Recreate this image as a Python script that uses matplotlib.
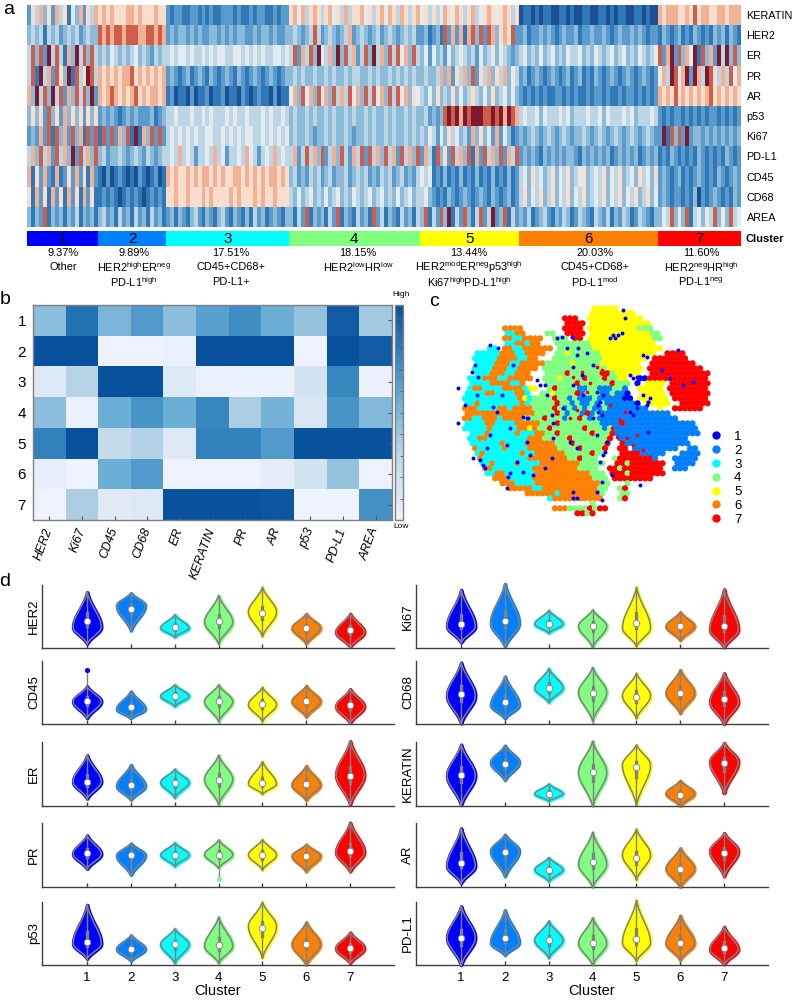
import numpy as np
import matplotlib
matplotlib.use("Agg")
import matplotlib.pyplot as plt
from matplotlib.colors import LinearSegmentedColormap, ListedColormap
from matplotlib.lines import Line2D

plt.rcParams['font.family'] = ['Liberation Sans', 'DejaVu Sans']
plt.rcParams['mathtext.fontset'] = 'custom'
plt.rcParams['mathtext.rm'] = 'Liberation Sans'
plt.rcParams['mathtext.default'] = 'rm'

W, H = 793, 1000
fig = plt.figure(figsize=(W / 100, H / 100), dpi=100)

def px_axes(x0, y0, x1, y1):
    return fig.add_axes([x0 / W, 1 - y1 / H, (x1 - x0) / W, (y1 - y0) / H])

def px_text(x, y, s, **kw):
    kw.setdefault('ha', 'center')
    kw.setdefault('va', 'center')
    fig.text(x / W, 1 - y / H, s, **kw)

cluster_colors = ['#0000ff', '#0080ff', '#00ffff', '#80ff80', '#ffff00', '#ff8000', '#ff0000']
cluster_names = ['1', '2', '3', '4', '5', '6', '7']

# ---- panel a: cell level (0 dark blue ... 9 dark red), one string per cluster
stripe_counts = [18, 17, 31, 33, 25, 35, 21]
row_names = ['KERATIN', 'HER2', 'ER', 'PR', 'AR', 'p53', 'Ki67', 'PD-L1', 'CD45', 'CD68', 'AREA']
keratin = ["264736274615372647", "67676667767666766", "2122112212121122212112122112122",
           "675746764675647466756467576476467", "5646457657646745676567646",
           "01101011001101001100110101100110100", "767776676867766776777"]
her2 = ["343414342343423433", "87878878887788787", "2323323232233232323322323323223",
        "343234842343234723432342343234342", "2312318272717838287367682",
        "23122323212322312232232123223232122", "132123121321213231321"]
er = ["483829484173948384", "34354343453432434", "4545545445454554455454545445545",
      "482748395473938472483947384857384", "3525342534543425345354323",
      "45343534534354453435434534534354345", "827928375918372949383"]
pr = ["481947286391846984", "76767677867676767", "2321231232132123213212321232123",
      "343433433434334344334343343434343", "3433473726473826473647354",
      "23123212321231231213212321232123212", "574985792974986474857"]
ar = ["739483948273848392", "76787676786767767", "1201102011201120110210121102011",
      "573857385738474857384857384857365", "4353634363534643536345353",
      "21212121122121211212212112122121212", "767686767676786767676"]
p53 = ["363628362736362636", "23232123232223123", "4454445445454445454454445454454",
       "343343433434334343343433434334343", "3423238989798999889897987",
       "45445354445453444544535444545344454", "212122121212122121212"]
ki67 = ["232728183728371828", "18282738191738282", "4545454544554454545455445454545",
        "343343233434334323343433434334343", "4354253645342736352725312",
        "32343234323432334323432343234323432", "291838292332323232323"]
pdl1 = ["473847284739284738", "34233432343243234", "4547454244547452445475424547454",
        "472484738247384274828473847284738", "2741836284738172847382748",
        "23232132323233213232323123232312323", "121321212132121213212"]
cd45 = ["716272171262726172", "10201210102101201", "7676676767767676677676767677676",
        "342324342342334234342324342342324", "5451213121312131213121312",
        "45364534635463456345463546345364536", "232123121232121321232"]
cd68 = ["617261726172617261", "12121012121012121", "6676676667676666767666767667666",
        "435345343534534354345345343534534", "4532121321232123213212312",
        "46354634635463546345463546354634635", "232122121302123212132"]
area = ["313281323132413231", "34231423142314231", "2313213421321342132131423123213",
        "314281323142813214231824132142314", "3814283914283148249238142",
        "32412342132431243214324132431243213", "354835381453548353845"]
heat_rows = [keratin, her2, er, pr, ar, p53, ki67, pdl1, cd45, cd68, area]

cluster_notes = [
    ['9.37%', 'Other'],
    ['9.89%', r'HER2$^{high}$ER$^{neg}$', r'PD-L1$^{high}$'],
    ['17.51%', 'CD45+CD68+', 'PD-L1+'],
    ['18.15%', r'HER2$^{low}$HR$^{low}$'],
    ['13.44%', r'HER2$^{mod}$ER$^{neg}$p53$^{high}$', r'Ki67$^{high}$PD-L1$^{high}$'],
    ['20.03%', 'CD45+CD68+', r'PD-L1$^{mod}$'],
    ['11.60%', r'HER2$^{neg}$HR$^{high}$', r'PD-L1$^{neg}$'],
]

# ---- panel b
b_markers = ['HER2', 'Ki67', 'CD45', 'CD68', 'ER', 'KERATIN', 'PR', 'AR', 'p53', 'PD-L1', 'AREA']
b_values = [
    [.45, .85, .50, .65, .45, .62, .72, .55, .42, .95, .38],
    [1.0, 1.0, .00, .00, .03, 1.0, 1.0, 1.0, .00, 1.0, .95],
    [.10, .32, 1.0, 1.0, .10, .03, .02, .02, .17, .75, .02],
    [.45, .03, .55, .68, .55, .75, .35, .52, .14, .68, .48],
    [.78, 1.0, .25, .33, .10, .78, .77, .65, 1.0, 1.0, 1.0],
    [.05, .00, .55, .65, .00, .00, .00, .06, .17, .42, .01],
    [.00, .35, .08, .10, 1.0, 1.0, 1.0, .97, .00, .00, .70],
]

# ---- panel c: dominant cluster over the t-SNE map, row by row
tsne_map = [
    "............................55555",
    "...........................555555555",
    "......................777..55555555555",
    "......................7777.555555555555",
    "..........6666........7777.5555555555444",
    "..........3366....44..7777.55555555555544",
    "..........66336666..444.77.555555555555544",
    "..........3366366...44444445555555555555",
    ".......33.6633666666.444444455555555555555",
    "....33333666336666..44544444455555555555..7777",
    "....3333366663366...4444444444555555555.7777777",
    "....333366633666664444454444455555555..777777777",
    "....3333666336666.44444444444445555555.77777777777",
    "....33366633666...4444744444477455555..777777777777",
    "...3336663366666..44454444744474455..11777777777777",
    "...33336666336....44444474444447444.1.5555.77777777",
    "...36633336666355..4744442244222442..55555.77777777",
    "..3333663333663..445444472444224221..55555.77777777",
    "..3333333333365344447442422242222211.555555.7777777",
    "..33633333333634444474424224242222221.55555..777777",
    "..6663333663666644447424242422422222222..5..777777",
    "..66666666666666444474244272422222222222222",
    "..6633666366664444744424474242222222222222222",
    "..3333663333666664447444444442222722222222222222",
    "..33333633333665644744444474442422222222222222222",
    "...3336333336333664474444447444722222222222222222",
    "...33663333333366644444744444447.22222222222222",
    "...3333336333366666644474444447..72222222222222",
    "....633333633336666664444744447..77.222222222..22",
    "....36333333363366666644444744...777722222...2222",
    ".....633333333366666666447444...477777772...22222",
    ".....3363333633336666666644444..7747777777..2222",
    "......66333333336666666664444..77477777777..222",
    "......336633333366666666666444.77747777777",
    "........66633333666666666666444.77777777",
    ".........6663333666666666666644...4",
    "...........66666336666666666644..47",
    "..............6666663666666664...44",
    "...................36666666666...47",
    "...........................4",
    "....................66644447477",
    "........................7747",
]

extra_blue_x = [85, 85, 105, 140, 150, 160, 165, 230, 235, 240, 290, 280, 295, 320, 330, 345, 350, 365, 380, 395,
                410, 425, 430, 445, 455, 470, 490, 500, 505, 510, 515, 520, 540, 550, 555, 565, 575, 580, 585,
                600, 610, 620, 625, 635, 640, 650, 655, 660, 600, 610, 620, 640, 650, 655, 505, 490, 500, 510,
                525, 545, 370, 420, 440, 460, 430, 440, 500, 515, 520, 530, 430, 400, 180, 205, 215, 180, 230,
                260, 310, 345, 365, 240, 200, 170, 135, 145, 430, 440, 515, 630, 720, 745, 760, 790, 695, 655,
                300, 280, 290, 370, 250, 190, 125, 130]
extra_blue_y = [280, 385, 330, 300, 495, 510, 520, 578, 545, 535, 370, 365, 370, 255, 270, 270, 300, 360, 130, 125,
                160, 125, 215, 160, 240, 175, 210, 290, 350, 320, 360, 300, 130, 120, 130, 120, 115, 45, 70,
                240, 250, 245, 255, 250, 180, 185, 320, 310, 350, 360, 340, 300, 330, 320, 330, 370, 420, 500,
                470, 540, 430, 440, 460, 300, 610, 610, 590, 615, 480, 440, 270, 340, 150, 160, 300, 420, 450,
                500, 540, 520, 490, 400, 350, 460, 210, 245, 590, 180, 560, 570, 250, 165, 270, 260, 225, 410,
                480, 530, 440, 385, 210, 335, 230, 490]
extra_red_x = [500, 515, 525, 480, 470, 445, 420, 440, 560, 575, 590, 610, 640, 570, 585, 540, 430, 455, 545, 620]
extra_red_y = [215, 225, 240, 265, 290, 295, 370, 345, 425, 440, 430, 450, 465, 375, 350, 330, 245, 230, 400, 420]

# ---- panel d: violin summaries (tip high, tip low, median, widest level), read in panel units 0-190
violin_panels = [
    ['HER2', 'Ki67'], ['CD45', 'CD68'], ['ER', 'KERATIN'], ['PR', 'AR'], ['p53', 'PD-L1'],
]
vhigh = {'HER2': [168, 165, 100, 158, 183, 103, 103], 'CD45': [113, 98, 118, 118, 111, 115, 105],
         'ER': [150, 122, 109, 150, 132, 119, 192], 'PR': [153, 129, 131, 139, 141, 126, 191],
         'p53': [181, 89, 109, 144, 189, 129, 98], 'Ki67': [175, 193, 113, 115, 183, 108, 177],
         'CD68': [185, 143, 167, 170, 153, 163, 153], 'KERATIN': [182, 179, 65, 192, 182, 75, 187],
         'AR': [174, 155, 87, 162, 172, 115, 160], 'PD-L1': [177, 165, 132, 142, 195, 149, 115]}
vlow = {'HER2': [13, 53, 33, 13, 35, 13, 3], 'CD45': [18, 18, 53, 8, 8, 21, 3],
        'ER': [22, 19, 25, 5, 35, 17, 5], 'PR': [54, 36, 61, 56, 51, 46, 46],
        'p53': [19, 13, 6, 6, 21, 1, 6], 'Ki67': [17, 5, 45, 2, 5, 23, 2],
        'CD68': [2, 17, 65, 10, 17, 32, 0], 'KERATIN': [3, 77, 14, 0, 2, 0, 39],
        'AR': [12, 32, 17, 0, 22, 0, 32], 'PD-L1': [0, 30, 22, 0, 12, 15, 2]}
vmed = {'HER2': [80, 119, 62, 81, 106, 60, 54], 'CD45': [69, 50, 84, 68, 60, 68, 56],
        'ER': [72, 62, 69, 78, 67, 65, 90], 'PR': [100, 94, 95, 96, 95, 92, 106],
        'p53': [69, 48, 62, 59, 112, 62, 50], 'Ki67': [72, 82, 72, 66, 74, 65, 66],
        'CD68': [90, 65, 108, 94, 82, 95, 75], 'KERATIN': [93, 126, 36, 100, 115, 32, 128],
        'AR': [72, 104, 50, 73, 86, 53, 102], 'PD-L1': [82, 80, 74, 67, 77, 65, 51]}
vmode = {'HER2': [63, 128, 60, 78, 108, 60, 48], 'CD45': [68, 45, 84, 68, 58, 68, 53],
         'ER': [72, 59, 70, 79, 65, 62, 92], 'PR': [98, 94, 95, 96, 95, 92, 103],
         'p53': [64, 48, 62, 56, 116, 62, 50], 'Ki67': [65, 75, 72, 66, 60, 65, 55],
         'CD68': [85, 57, 108, 95, 85, 93, 67], 'KERATIN': [90, 129, 36, 100, 122, 37, 132],
         'AR': [62, 107, 51, 67, 95, 54, 107], 'PD-L1': [82, 67, 74, 65, 67, 65, 47]}
v_outliers = {'CD45': [(1, 163)], 'PR': [(4, 24)], 'KERATIN': [(7, 42)]}

# ================= drawing =================
heat_cmap = ListedColormap(['#1c4f94', '#2f79b8', '#5a9bcb', '#8cbbd9', '#bdd6e6',
                            '#e3ebef', '#f9ddcd', '#f2b095', '#cf5d4c', '#7d1a30'])

def fit(s, n):
    return s[:n].ljust(n, s[-1])

matrix = np.array([[int(ch) for ch in ''.join(fit(s, n) for s, n in zip(row, stripe_counts))]
                   for row in heat_rows])
ax = px_axes(27, 5, 741, 227)
ax.imshow(matrix, aspect='auto', cmap=heat_cmap, vmin=-0.5, vmax=9.5, interpolation='nearest')
ax.yaxis.tick_right()
ax.set_yticks(range(len(row_names)), row_names, fontsize=7.8)
ax.tick_params(axis='y', length=0, pad=4)
ax.set_xticks([])
for s in ax.spines.values():
    s.set_visible(False)

# cluster bar
ax = px_axes(27, 231, 741, 246)
left = 0
for n, c, name in zip(stripe_counts, cluster_colors, cluster_names):
    ax.barh(0, n, left=left, height=1, color=c, lw=0)
    ax.text(left + n / 2, -0.03, name, ha='center', va='center', fontsize=11)
    left += n
ax.set_xlim(0, sum(stripe_counts))
ax.set_ylim(-0.5, 0.5)
ax.axis('off')
px_text(745, 239, 'Cluster', ha='left', fontsize=8, fontweight='bold')

note_x = [63, 134, 231, 358, 469, 595, 701]
line_y = [252.5, 267, 282]
for x, note in zip(note_x, cluster_notes):
    for y, line in zip(line_y, note):
        px_text(x, y, line, fontsize=7.9)

px_text(9, 10, 'a', fontsize=14)
px_text(5, 300, 'b', fontsize=14)
px_text(434, 302, 'c', fontsize=14)
px_text(5, 582, 'd', fontsize=14)

# panel b
blues = LinearSegmentedColormap.from_list('b', [(0, '#eff3ff'), (.3, '#bdd7e7'), (.55, '#6baed6'),
                                                 (.78, '#3182bd'), (1, '#08519c')])
ax = px_axes(33, 305, 392, 520)
im = ax.imshow(np.array(b_values), aspect='auto', cmap=blues, vmin=0, vmax=1, interpolation='nearest')
ax.set_xticks(range(len(b_markers)))
ax.set_xticklabels(b_markers, rotation=70, ha='right', va='center', rotation_mode='anchor',
                   fontsize=9, style='italic')
ax.set_yticks(range(7), cluster_names, fontsize=11)
ax.tick_params(axis='x', direction='in', length=3, width=.8, color='#555555', pad=6)
ax.tick_params(axis='y', direction='in', length=3, width=.8, color='#555555', left=False, right=True, pad=5)
for s in ax.spines.values():
    s.set_color('#808080')
    s.set_linewidth(1)
cax = px_axes(395, 305, 403, 520)
cb = fig.colorbar(im, cax=cax)
cb.set_ticks(np.linspace(0, 1, 11))
cb.ax.tick_params(labelright=False, direction='in', length=2, width=.6, color='#555555')
cb.outline.set_edgecolor('#808080')
cb.outline.set_linewidth(1)
px_text(401, 295, 'High', fontsize=6)
px_text(401, 527, 'Low', fontsize=6)

# panel c
ax = px_axes(430, 295, 770, 525)
ax.set_xlim(0, 1020)
ax.set_ylim(690, 0)
ax.axis('off')
map_x, map_y, map_c = [], [], []
for r, row in enumerate(tsne_map):
    for c, ch in enumerate(row):
        if ch != '.':
            map_x.append(75 + 15 * c + (7.5 if r % 2 else 0))
            map_y.append(40 + 15 * r)
            map_c.append(cluster_colors[int(ch) - 1])
ax.scatter(map_x, map_y, s=20, c=map_c, lw=0)
ax.scatter(extra_red_x, extra_red_y, s=7, color=cluster_colors[6], lw=0)
ax.scatter(extra_blue_x, extra_blue_y, s=8, color=cluster_colors[0], lw=0)
handles = [Line2D([], [], ls='', marker='o', ms=5, mfc=c, mec=c) for c in cluster_colors]
ax.legend(handles, cluster_names, loc='upper left', bbox_to_anchor=(0.803, 0.41), frameon=False,
          fontsize=9.5, labelspacing=0.12, handletextpad=0.35, borderpad=0, borderaxespad=0)

# panel d
row_y = [(585, 648), (661, 724), (742, 806), (823, 887), (902, 965)]
col_x = [(42, 394), (416, 768)]
half_width = 0.32
tail = np.exp(-2.0)
for ri, (pair, (y0, y1)) in enumerate(zip(violin_panels, row_y)):
    for name, (x0, x1) in zip(pair, col_x):
        ax = px_axes(x0, y0, x1, y1)
        for i in range(7):
            hi, lo, med, mode = vhigh[name][i], vlow[name][i], vmed[name][i], vmode[name][i]
            c = cluster_colors[i]
            up = np.linspace(mode, hi, 40)
            dn = np.linspace(lo, mode, 40)
            su = max(hi - mode, 1) / 2.0
            sd = max(mode - lo, 1) / 2.0
            y = np.r_[dn, up[1:]]
            prof = np.r_[np.exp(-.5 * ((dn - mode) / sd) ** 2), np.exp(-.5 * ((up[1:] - mode) / su) ** 2)]
            w = half_width * (prof - tail) / (1 - tail)
            xc = i + 1
            ax.fill_betweenx(y, xc - w, xc + w, color=c, lw=2.6, clip_on=False, zorder=2)
            ax.plot(np.r_[xc - w, (xc + w)[::-1]], np.r_[y, y[::-1]], color='#808080', lw=1.1, clip_on=False, zorder=3)
            ax.plot([xc, xc], [lo, hi], color='#808080', lw=1, clip_on=False, zorder=3)
            ax.plot([xc, xc], [med - .5 * sd, med + .5 * su], color='#808080', lw=2.4, zorder=3, clip_on=False)
            ax.scatter([xc], [med], s=22, color='white', edgecolor='#808080', lw=.6, zorder=4, clip_on=False)
        for xc, v in v_outliers.get(name, []):
            ax.plot([xc, xc], [vhigh[name][xc - 1], v], color='#808080', lw=1, zorder=1)
            ax.scatter([xc], [v], s=14, color=cluster_colors[xc - 1], lw=0, zorder=2, clip_on=False)
        ax.set_xlim(-0.03, 8)
        ax.set_ylim(0, 190)
        ax.set_yticks([])
        ax.set_xticks(range(1, 8))
        ax.tick_params(axis='x', direction='in', length=3, width=1, color='#404040', pad=5, labelsize=9.5,
                       labelbottom=ri == 4)
        for s in ('top', 'right'):
            ax.spines[s].set_visible(False)
        for s in ('left', 'bottom'):
            ax.spines[s].set_color('#404040')
            ax.spines[s].set_linewidth(1)
        ax.set_ylabel(name, fontsize=9.5, va='center')
        ax.yaxis.set_label_coords(-8 / (x1 - x0), 0.5)
        if ri == 4:
            ax.set_xlabel('Cluster', fontsize=10.5, labelpad=0)

fig.savefig('out.png', dpi=100)
